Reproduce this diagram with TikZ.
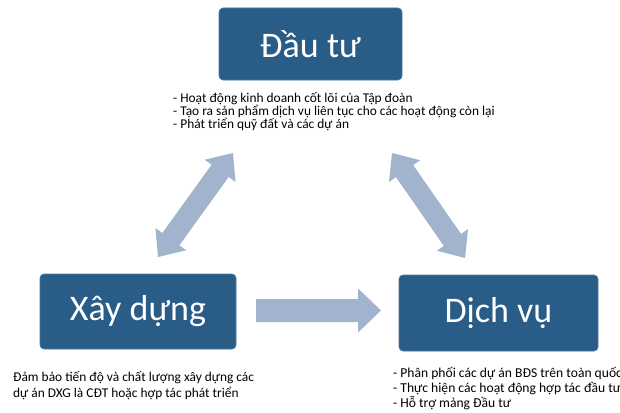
\documentclass[tikz,border=0pt]{standalone}
\usepackage{fontspec}
\setmainfont{Carlito}
\usetikzlibrary{calc}
\definecolor{boxblue}{RGB}{41,92,134}
\definecolor{boxedge}{RGB}{80,118,158}
\definecolor{arrowfill}{RGB}{162,179,205}
\tikzset{
  mainbox/.style={draw=boxedge, line width=0.6pt, fill=boxblue, rounded corners=4pt,
    text=white, inner sep=0pt, font=\fontsize{36}{40}\selectfont},
  notes/.style={anchor=north west, inner sep=0pt, align=left},
}
% double block arrow between two named coordinates: A, B, head length, head half-width, shaft half-width
\newcommand\dblarrow[5]{%
  \fill[arrowfill] (#1)
    -- ($(#1)!#3!(#2)!#4!90:(#2)$) -- ($(#1)!#3!(#2)!#5!90:(#2)$)
    -- ($(#2)!#3!(#1)!#5!-90:(#1)$) -- ($(#2)!#3!(#1)!#4!-90:(#1)$)
    -- (#2)
    -- ($(#2)!#3!(#1)!#4!90:(#1)$) -- ($(#2)!#3!(#1)!#5!90:(#1)$)
    -- ($(#1)!#3!(#2)!#5!-90:(#2)$) -- ($(#1)!#3!(#2)!#4!-90:(#2)$)
    -- cycle;}
% single block arrow from A to B
\newcommand\sglarrow[5]{%
  \fill[arrowfill] ($(#1)!#5!90:(#2)$)
    -- ($(#2)!#3!(#1)!#5!-90:(#1)$) -- ($(#2)!#3!(#1)!#4!-90:(#1)$)
    -- (#2)
    -- ($(#2)!#3!(#1)!#4!90:(#1)$) -- ($(#2)!#3!(#1)!#5!90:(#1)$)
    -- ($(#1)!#5!-90:(#2)$)
    -- cycle;}
\begin{document}
\begin{tikzpicture}[x=1pt,y=-1pt]
\useasboundingbox (0,0) rectangle (620,412);
\clip (0,0) rectangle (620,412);

\node[mainbox, minimum width=183pt, minimum height=72pt] (dau) at (310.5,44) {Đầu tư};
\node[mainbox, minimum width=196pt, minimum height=75pt] (xay) at (138,311.5) {Xây dựng};
\node[mainbox, minimum width=199pt, minimum height=76pt] (dich) at (498.5,313) {Dịch vụ};

\node[notes, font=\fontsize{13.4}{13}\selectfont] (dautxt) at (173,92)
  {- Hoạt động kinh doanh cốt lõi của Tập đoàn\\
   - Tạo ra sản phẩm dịch vụ liên tục cho các hoạt động còn lại\\
   - Phát triển quỹ đất và các dự án};
\node[notes, font=\fontsize{13.4}{16.5}\selectfont] (xaytxt) at (13,371)
  {Đảm bảo tiến độ và chất lượng xây dựng các\\
   dự án DXG là CĐT hoặc hợp tác phát triển};
\node[notes, font=\fontsize{13.6}{15}\selectfont] (dichtxt) at (393,367.5)
  {- Phân phối các dự án BĐS trên toàn quốc\\
   - Thực hiện các hoạt động hợp tác đầu tư\\
   - Hỗ trợ mảng Đầu tư};

\coordinate (la) at (158,257);
\coordinate (lb) at (233,153);
\coordinate (ra) at (392,153);
\coordinate (rb) at (465,258);
\coordinate (ha) at (256,310.5);
\coordinate (hb) at (381,310.5);

\dblarrow{la}{lb}{22pt}{19pt}{10.5pt}
\dblarrow{ra}{rb}{22pt}{19pt}{10.5pt}
\sglarrow{ha}{hb}{23pt}{22pt}{11.5pt}
\end{tikzpicture}
\end{document}
